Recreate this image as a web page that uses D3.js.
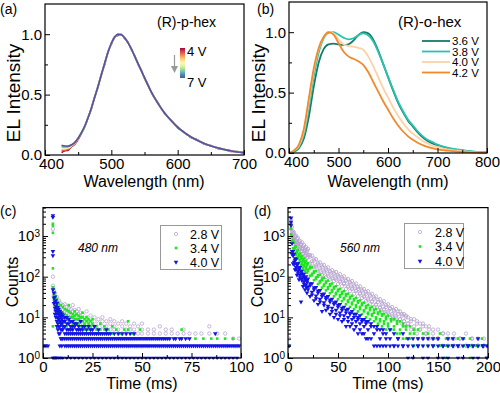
<!DOCTYPE html>
<html><head><meta charset="utf-8">
<script src="https://cdn.jsdelivr.net/npm/d3@7"></script>
<style>body{margin:0;background:#fff}svg{display:block}text{font-family:"Liberation Sans",Arial,sans-serif}</style>
</head><body><svg id="c" width="500" height="393"></svg>
<script>
// ---------- Panel (a): (R)-p-hex EL spectra, 4 V .. 7 V ----------
const wlA = [425,430,435,440,445,450,455,460,465,470,475,480,485,490,495,500,505,510,515,520,525,530,535,540,545,550,555,560,570,580,590,600,610,620,630,640,650,660,670,680,690,700];
const voltsA = ["4 V","4.5 V","5 V","5.5 V","6 V","6.5 V","7 V"];
const elA_4V = [0.02,0.035,0.04,0.07,0.09,0.13,0.18,0.235,0.31,0.385,0.485,0.565,0.67,0.75,0.855,0.915,0.98,0.99,1.0,0.965,0.935,0.875,0.825,0.755,0.705,0.635,0.585,0.52,0.435,0.345,0.29,0.225,0.19,0.145,0.125,0.09,0.078,0.055,0.048,0.03,0.028,0.012];
const elA_heads = [
  [0.035,0.04,0.05,0.07,0.095],
  [0.045,0.05,0.055,0.075,0.1],
  [0.055,0.055,0.06,0.078,0.1],
  [0.065,0.062,0.065,0.08,0.102],
  [0.072,0.068,0.07,0.082,0.104],
  [0.08,0.075,0.075,0.085,0.105]
];
const elA_tail = [0.14,0.185,0.24,0.31,0.39,0.48,0.57,0.665,0.76,0.85,0.925,0.975,1.0,0.995,0.97,0.93,0.88,0.82,0.76,0.70,0.64,0.58,0.525,0.43,0.35,0.285,0.23,0.185,0.15,0.12,0.095,0.075,0.06,0.045,0.035,0.025,0.02];

// ---------- Panel (b): (R)-o-hex EL spectra ----------
const wlB = [400,410,420,430,440,450,460,470,480,490,500,510,520,530,540,550,560,570,580,590,600,610,620,630,640,650,660,670,680,690,700,720,740,760,780,800];
const voltsB = ["3.6 V","3.8 V","4.0 V","4.2 V"];
const elB_36 = [0,0.01,0.04,0.12,0.3,0.55,0.75,0.86,0.9,0.905,0.9,0.895,0.9,0.93,0.975,1.0,0.99,0.94,0.85,0.74,0.63,0.52,0.42,0.34,0.27,0.22,0.17,0.13,0.10,0.08,0.065,0.04,0.025,0.015,0.008,0.004];
const elB_38 = [0,0.015,0.05,0.15,0.37,0.63,0.83,0.95,0.995,1.0,0.98,0.955,0.94,0.95,0.975,0.99,0.975,0.925,0.84,0.74,0.63,0.53,0.43,0.35,0.28,0.23,0.18,0.14,0.11,0.09,0.07,0.045,0.03,0.018,0.01,0.005];
const elB_40 = [0,0.02,0.06,0.18,0.42,0.68,0.86,0.96,1.0,0.99,0.94,0.9,0.885,0.88,0.87,0.855,0.8,0.72,0.63,0.54,0.46,0.38,0.31,0.25,0.2,0.16,0.13,0.1,0.08,0.06,0.05,0.03,0.02,0.012,0.007,0.003];
const elB_42 = [0,0.02,0.07,0.2,0.45,0.7,0.87,0.96,1.0,0.98,0.91,0.84,0.8,0.78,0.76,0.73,0.67,0.59,0.51,0.43,0.36,0.29,0.23,0.18,0.14,0.11,0.085,0.065,0.05,0.04,0.03,0.02,0.012,0.007,0.004,0.002];
const colorsB = ["#167a6c","#2cc3ad","#fbd2a6","#f28a2c"];

// ---------- Panel (c): decay at 480 nm, rows [time (ms), counts...] ----------
const seriesNames = ["2.8 V","3.4 V","4.0 V"];
const c28 = [[5,1500,100,60],[5.5,45,35],[6,40,28,20],[7,32,22,16],[8,26,20,14],[9,22,17,12],[10,20,15,11],[11,21,14,10],[12,18,13,10],[13,17,12,9],[14,16,12,9],[15,20,14,10],[16,15,11,8],[17,14,11,8],[18,16,12,9],[19,13,10,7],[20,12,9,7],[22,14,10,8],[24,11,8,6],[26,10,8,6],[28,9,7,5],[30,10,8,6],[32,8,6,5],[34,9,7,5],[36,8,6,5],[38,7,5,4],[40,8,6,4],[42,7,5,4],[44,6,5],[46,7,5,4],[48,6,4],[50,7,5,4],[53,5,4],[56,5,4],[59,6,4],[62,5,4],[65,5,4],[68,4],[71,5,4],[74,4],[77,4],[80,4],[84,6,4],[88,4],[92,4],[96,3],[99,3]];
const c34 = [[0.5,2],[1.5,2],[5,2000,1800,1200,160,55,6],[5.5,50,38,28],[6,40,30,22,15],[6.5,32,25,18,12],[7,28,20,14,10],[7.5,24,18,13,9],[8,22,16,12,8],[9,20,14,11,8],[10,18,13,10,7],[11,16,12,9,6],[12,15,11,9,6],[13,20,14,10,8,5],[14,13,10,8,6],[15,12,10,7,5],[16,14,11,9,7],[17,12,9,7,5],[18,11,9,7,5],[19,10,8,6],[20,13,10,8,6],[21,9,7,5],[22,10,8,6],[23,9,7,5],[24,8,6,5],[25,9,7,5],[27,6,5,4],[29,7,5,3],[31,6,5],[33,5,4,3],[35,6,4],[37,5,3],[39,4,3],[41,5,3],[43,8,5,3],[45,4,3],[47,3],[49,5,3],[52,3],[55,3],[58,3],[61,3],[64,3],[67,3],[70,5,3],[73,3],[77,3],[81,3],[85,3],[88,3],[92,3],[96,3],[99,2]];
const c40 = [[0.5,2],[1.5,2],[2.5,2],[5,3200,2900,420,330,48,1],[5.5,40,30,22,1],[6,32,24,17,12,1],[6.5,26,19,14,10,1],[7,22,16,12,8,6,1],[7.5,18,14,10,7,5],[8,16,12,9,6,4,1],[8.5,14,11,8,6,4,2],[9,13,10,7,5,3,1],[9.5,12,9,7,5,3,2],[10,11,8,6,5,3,1],[11,10,8,6,4,3,2],[12,10,7,5,4,3,2,1],[13,9,7,5,4,3,2],[14,8,6,5,4,3,2,1],[15,8,6,5,4,3,2],[16,7,6,4,3,2,1],[17,7,5,4,3,2],[18,6,5,4,3,2,1],[19,8,5,4,3,2],[20,6,5,4,3,2,1],[21,6,4,3,2],[22,5,4,3,2,1],[23,6,4,3,2],[24,5,4,3,2,1],[25,5,4,3,2],[26,6,4,3,2,1],[27,4,3,2],[28,5,4,3,2,1],[29,4,3,2],[30,4,3,2,1],[31,4,3,2],[32,5,4,3,2,1],[33,4,3,2],[34,4,3,2,1],[35,3,2],[36,4,3,2,1],[37,3,2],[38,4,3,2,1],[39,3,2],[40,4,3,2,1],[41,3,2],[42,4,3,2,1],[43,3,2],[44,4,3,2,1],[45,3,2],[46,4,3,2,1],[47,3,2],[48,3,2,1],[49,3,2],[50,3,2,1],[51,3,2],[52,3,2,1],[53,3,2],[54,3,2,1],[55,3,2],[56,3,2,1],[57,3,2],[58,3,2,1],[59,3,2],[60,3,2,1],[61,3,2],[62,3,2,1],[63,3,2],[64,3,2,1],[65,2],[66,3,2,1],[67,3,2],[68,2,1],[69,3,2],[70,3,2,1],[71,2],[72,3,2,1],[73,2],[74,3,2,1],[75,2],[76,2,1],[77,2],[78,2,1],[79,2],[80,2,1],[81,2],[82,2,1],[83,2],[84,2,1],[85,2],[86,2,1],[87,4,2],[88,2,1],[89,2],[90,2,1],[91,2],[92,2,1],[93,2],[94,2,1],[95,2],[96,2,1],[97,2],[98,2,1],[99,2]];

// ---------- Panel (d): decay at 560 nm ----------
const d28 = [[1,3,2],[3,2600,2100,1500],[4,1650,1250,1050],[5,1300,1180,900],[6,1200,900,820],[7,1000,950,700],[8,1020,760,640],[9,850,700,600],[10,900,640,560],[11,720,660,470],[12,760,540,480],[13,640,600,420],[14,700,480,430],[15,560,500,360],[16,600,420,380],[17,500,460,330],[18,540,370,330],[19,450,420,290],[20,480,340,300],[22,340,310,210],[24,330,240,210],[26,280,250,170],[28,270,190,175],[30,220,200,135],[32,225,160,140],[34,190,170,110],[36,195,135,125],[38,160,148,98],[40,170,118,105],[42,138,128,85],[44,145,102,92],[46,125,115,78],[48,130,92,84],[50,108,100,66],[52,115,80,74],[54,96,88,58],[56,102,70,66],[58,84,78,50],[60,88,60,56],[62,74,68,44],[64,78,54,50],[66,64,58,38],[68,68,46,44],[70,56,50,33],[72,58,40,38],[74,48,44,30],[76,50,34,32],[78,42,38,25],[80,44,29,27],[82,36,33,21],[84,38,25,24],[86,31,28,18],[88,33,21,20],[90,27,24,15],[92,28,18,17],[94,23,21,13],[96,25,16,15],[98,20,18,12],[100,21,14,13],[102,17,16,10],[104,18,12,11],[106,15,14,9],[108,16,11,10],[110,14,12,8],[112,14,9,9],[114,12,11,7],[116,12,8,8],[118,11,10,6],[120,10,7,7],[123,9,8,5],[126,9,6,5],[129,8,7,4],[132,7,5,5],[135,7,6,3],[138,6,4,4],[141,6,5,3],[145,5,4,3],[150,5,3,3],[155,4,4,2],[160,4,3,2],[166,4,3,2],[172,3,3,2],[178,4,2,2],[184,3,3,2],[190,3,2,2],[196,3,2,2]];
const d34 = [[1,2],[3,2000,1500,1100],[4,980,760,700],[5,800,700,500],[6,690,500,460],[7,560,500,360],[8,540,380,340],[9,440,400,280],[10,450,310,280],[11,360,330,220],[12,370,260,240],[13,310,280,190],[14,320,225,200],[15,270,245,165],[16,280,195,180],[17,235,215,140],[18,245,170,155],[19,205,190,125],[20,215,150,138],[22,175,160,105],[24,170,118,108],[26,135,125,82],[28,138,96,88],[30,108,100,66],[32,112,78,72],[34,90,82,54],[36,94,64,60],[38,76,70,46],[40,80,55,50],[42,65,60,39],[44,68,47,43],[46,56,51,33],[48,58,40,37],[50,48,44,28],[52,50,35,32],[54,42,38,25],[56,44,30,28],[58,37,34,21],[60,38,26,24],[62,32,29,18],[64,34,23,21],[66,28,26,16],[68,30,20,18],[70,25,23,14],[72,26,18,16],[74,22,20,12],[76,23,15,14],[78,19,17,10],[80,20,13,12],[82,17,15,9],[84,18,12,11],[86,15,13,8],[88,16,10,9],[90,13,12,7],[92,14,9,8],[94,12,11,6],[96,12,8,7],[98,10,9,5],[100,11,7,6],[103,9,8,5],[106,9,6,5],[109,8,7,4],[112,8,5,4],[115,7,6,3],[118,6,5,3],[122,6,4,3],[126,5,4,2],[130,5,3,3],[135,4,3,2],[140,4,3,2],[146,3,3,2],[152,4,2,2],[158,3,2,1],[164,3,2,2],[170,3,3,2],[176,3,2,2],[182,3,2,1],[188,2,2,2],[194,3,2,2],[199,2,2,1]];
const d40 = [[1,2],[3,2800,2200,1800],[4,650,420,360],[5,420,330,210],[6,360,230,200],[7,280,250,150],[8,270,170,150],[9,210,190,110],[10,210,135,120],[11,165,150,85],[12,170,110,95],[13,135,120,24],[14,140,90,80],[15,115,100,58],[16,118,76,66],[17,96,86,48],[18,100,64,56],[19,82,74,40],[20,88,56,48],[22,68,60,33],[24,68,42,36],[26,54,48,26],[28,55,34,29],[30,45,40,21],[32,46,28,24],[34,37,33,14],[36,38,23,20],[38,31,28,15],[40,33,19,17],[42,27,24,12],[44,28,17,14],[46,23,21,10],[48,24,15,12],[50,20,18,9],[52,21,13,11],[54,17,15,8],[56,18,11,9],[58,15,13,6],[60,16,10,8],[62,13,12,6],[64,14,9,7],[66,12,10,5],[68,12,8,6],[70,10,9,4],[72,11,7,5],[74,9,8,4],[76,9,6,4],[78,8,7,3],[80,8,5,3],[83,7,6,3],[86,6,4,2],[89,6,5,2],[92,5,3,2],[95,5,4,2],[98,4,3,2],[102,5,3,2],[106,4,2,2],[110,3,3,2],[115,4,2,2],[120,3,2,1],[125,3,2,1],[130,3,2,2],[135,3,2,1],[140,3,2,1],[145,3,2,2],[150,3,2,1],[155,2,2,1],[160,3,2,1],[165,3,2,2],[170,2,2,1],[175,3,2,1],[180,2,2,2],[185,2,2,1],[190,3,2,1],[195,2,2,2],[199,2,1,1]];

const FONT = '"Liberation Sans",Arial,sans-serif';
const svg = d3.select("#c");

// ---------- scales ----------
const xA = d3.scaleLinear([400,700],[45,244]), yA = d3.scaleLinear([0,1.25],[155,4]);
const xB = d3.scaleLinear([400,800],[289,487]), yB = d3.scaleLinear([0,1.25],[153,2]);
const xC = d3.scaleLinear([0,100],[43,241]), yC = d3.scaleLog([1,5000],[358,207.6]);
const xD = d3.scaleLinear([0,200],[288,488]), yD = d3.scaleLog([1,5000],[358,207.6]);

function styleAxis(g, size) {
  g.select(".domain").remove();
  g.attr("font-family", FONT).attr("font-size", size);
  g.selectAll("line").attr("stroke","#000").attr("stroke-width",1);
  g.selectAll("text").attr("fill","#000");
}
function drawAxes(x, y, xMaj, xMin, yMaj, yMin, yFmt, log) {
  const [x0,x1] = x.range(), [yb,yt] = y.range();
  const gx = svg.append("g").attr("transform",`translate(0,${yb})`)
    .call(d3.axisBottom(x).tickValues(xMaj).tickSize(-5).tickPadding(3).tickFormat(d3.format("d")));
  styleAxis(gx, 15);
  const gxm = svg.append("g").attr("transform",`translate(0,${yb})`)
    .call(d3.axisBottom(x).tickValues(xMin).tickSize(-3).tickFormat(""));
  styleAxis(gxm, 15);
  const gy = svg.append("g").attr("transform",`translate(${x0},0)`)
    .call(d3.axisLeft(y).tickValues(yMaj).tickSize(-5).tickPadding(3).tickFormat(log ? () => "" : yFmt));
  styleAxis(gy, 15);
  if (log) {
    gy.selectAll(".tick text").each(function(d){
      const t = d3.select(this);
      t.append("tspan").text("10");
      t.append("tspan").attr("dy","-0.45em").attr("font-size",10).text(Math.round(Math.log10(d)));
    });
  }
  const gym = svg.append("g").attr("transform",`translate(${x0},0)`)
    .call(d3.axisLeft(y).tickValues(yMin).tickSize(-3).tickFormat(""));
  styleAxis(gym, 15);
  svg.append("rect").attr("x",x0).attr("y",yt).attr("width",x1-x0).attr("height",yb-yt)
    .attr("fill","none").attr("stroke","#000").attr("stroke-width",1.2);
  return gx;
}
function text(x, y, s, size, opts={}) {
  const t = svg.append("text").attr("x",x).attr("y",y).attr("font-size",size).attr("font-family",FONT)
    .attr("fill", opts.fill || "#000").text(s);
  if (opts.anchor) t.attr("text-anchor",opts.anchor);
  if (opts.rotate) t.attr("transform",`rotate(-90,${x},${y})`);
  if (opts.italic) t.attr("font-style","italic");
  return t;
}

// ---------- Panel (a) ----------
const seriesA = voltsA.map((v,i) => ({v, vals: i===0 ? elA_4V : elA_heads[i-1].concat(elA_tail)}));
const colA = d3.scaleSequential(d3.interpolateSpectral).domain([0, voltsA.length-1]);
const lineA = d3.line().x((d,i)=>xA(wlA[i])).y(d=>yA(d)).curve(d3.curveMonotoneX);
seriesA.forEach((s,i) => svg.append("path").attr("d",lineA(s.vals)).attr("fill","none")
  .attr("stroke",colA(i)).attr("stroke-width",1.6));
const gxA = drawAxes(xA, yA, [400,500,600,700], [450,550,650], [0,0.5,1.0], [0.25,0.75], d3.format(".1f"), false);
gxA.selectAll(".tick text").filter(d=>d===400).attr("dx",6);
text(157, 27, "(R)-p-hex", 14);
// colorbar
const cbDefs = svg.append("defs").append("linearGradient").attr("id","cbg").attr("x1",0).attr("y1",0).attr("x2",0).attr("y2",1);
d3.range(0,1.01,0.1).forEach(o => cbDefs.append("stop").attr("offset",o).attr("stop-color",d3.interpolateSpectral(o)));
svg.append("rect").attr("x",180).attr("y",48).attr("width",5).attr("height",30).attr("fill","url(#cbg)");
text(187, 56, voltsA[0], 13);
text(187, 87, voltsA[voltsA.length-1], 13);
svg.append("line").attr("x1",174.5).attr("x2",174.5).attr("y1",55).attr("y2",67).attr("stroke","#999").attr("stroke-width",1.2);
svg.append("path").attr("d","M171,66L178,66L174.5,73Z").attr("fill","#999");
text(20, 93, "EL Intensity", 19, {anchor:"middle", rotate:true});
text(144, 187, "Wavelength (nm)", 16, {anchor:"middle"});
text(0, 14, "(a)", 14);

// ---------- Panel (b) ----------
const seriesB = [elB_36, elB_38, elB_40, elB_42];
const lineB = d3.line().x((d,i)=>xB(wlB[i])).y(d=>yB(d)).curve(d3.curveMonotoneX);
seriesB.forEach((s,i) => svg.append("path").attr("d",lineB(s)).attr("fill","none")
  .attr("stroke",colorsB[i]).attr("stroke-width",1.8));
const gxB = drawAxes(xB, yB, [400,500,600,700,800], [450,550,650,750], [0,0.5,1.0], [0.25,0.75], d3.format(".1f"), false);
gxB.selectAll(".tick text").filter(d=>d===400).attr("dx",7);
text(398, 27, "(R)-o-hex", 15);
voltsB.forEach((v,i) => {
  const yy = 41 + i*10.5;
  svg.append("line").attr("x1",422).attr("x2",450).attr("y1",yy).attr("y2",yy).attr("stroke",colorsB[i]).attr("stroke-width",1.8);
  text(452, yy+4.2, v, 11.5);
});
text(265, 93, "EL Intensity", 19, {anchor:"middle", rotate:true});
text(388, 187, "Wavelength (nm)", 16, {anchor:"middle"});
text(257, 14, "(b)", 14);

// ---------- markers ----------
const mk = {
  circle: (g,x,y) => g.append("circle").attr("cx",x).attr("cy",y).attr("r",1.7).attr("fill","none").attr("stroke","#b7a3cf").attr("stroke-width",0.8),
  square: (g,x,y) => g.append("rect").attr("x",x-1.3).attr("y",y-1.3).attr("width",2.6).attr("height",2.6).attr("fill","#1fe51f"),
  tri: (g,x,y) => g.append("path").attr("d",d3.symbol(d3.symbolTriangle,9)()).attr("transform",`translate(${x},${y}) rotate(180)`).attr("fill","#1414e6")
};
const kinds = ["circle","square","tri"];
function scatter(x, y, sets, clipId) {
  const [x0,x1] = x.range(), [yb,yt] = y.range();
  svg.append("clipPath").attr("id",clipId).append("rect").attr("x",x0).attr("y",yt).attr("width",x1-x0).attr("height",yb-yt+1.5);
  const g = svg.append("g").attr("clip-path",`url(#${clipId})`);
  sets.forEach((rows,k) => rows.forEach(r => r.slice(1).forEach(c => mk[kinds[k]](g, x(r[0]), y(c)))));
}
const logMaj = [1,10,100,1000];
const logMin = [];
[1,10,100,1000].forEach(p => [2,3,4,5,6,7,8,9].forEach(m => { if (p*m <= 5000) logMin.push(p*m); }));

// ---------- Panel (c) ----------
scatter(xC, yC, [c28, c34, c40], "clipC");
drawAxes(xC, yC, [0,25,50,75,100], [12.5,37.5,62.5,87.5], logMaj, logMin, null, true);
svg.append("rect").attr("x",160.5).attr("y",225.5).attr("width",61).attr("height",44).attr("fill","#fff").attr("stroke","#999").attr("stroke-width",1);
seriesNames.forEach((s,i) => { const yy = 234 + i*14; mk[kinds[i]](svg, 176, yy); text(190, yy+4.5, s, 12.5); });
text(78, 252, "480 nm", 12, {italic:true});
text(18, 282, "Counts", 16, {anchor:"middle", rotate:true});
text(142, 389, "Time (ms)", 16, {anchor:"middle"});
text(0, 216, "(c)", 14);

// ---------- Panel (d) ----------
scatter(xD, yD, [d28, d34, d40], "clipD");
drawAxes(xD, yD, [0,50,100,150,200], [25,75,125,175], logMaj, logMin, null, true);
svg.append("rect").attr("x",404.5).attr("y",223.5).attr("width",59).attr("height",45).attr("fill","#fff").attr("stroke","#999").attr("stroke-width",1);
seriesNames.forEach((s,i) => { const yy = 232 + i*14.5; mk[kinds[i]](svg, 420, yy); text(435, yy+4.5, s, 12.5); });
text(340, 252, "560 nm", 12, {italic:true});
text(263, 282, "Counts", 16, {anchor:"middle", rotate:true});
text(388, 389, "Time (ms)", 16, {anchor:"middle"});
text(254, 216, "(d)", 14);
</script></body></html>
